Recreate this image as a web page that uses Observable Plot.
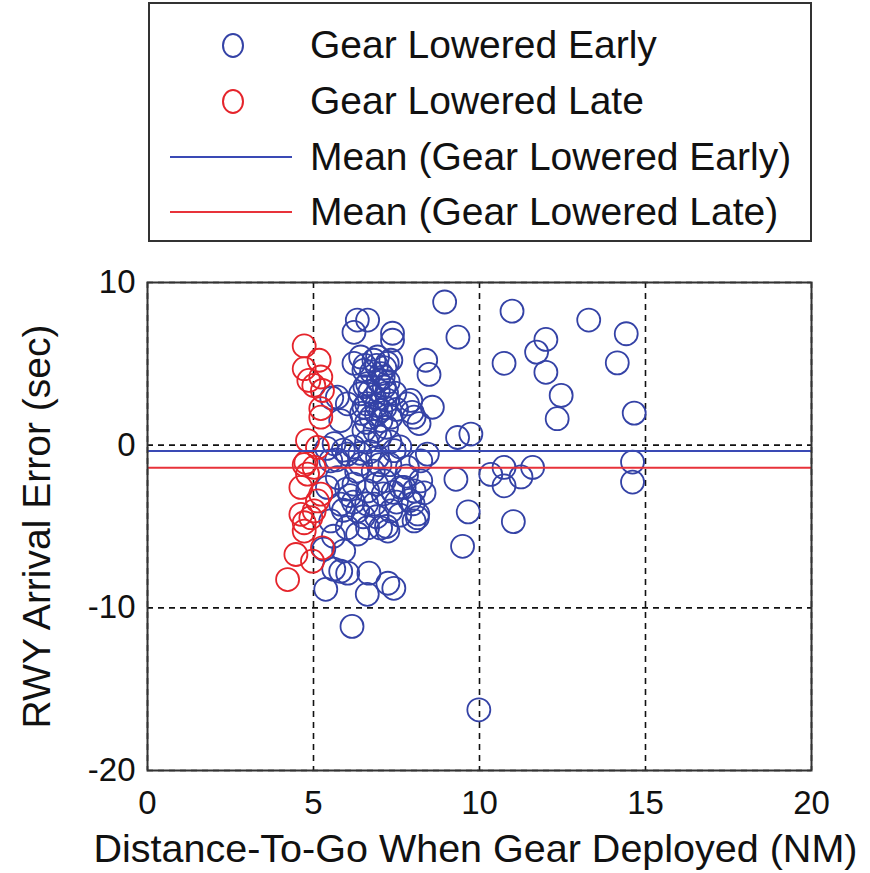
<!DOCTYPE html>
<html><head><meta charset="utf-8">
<script src="https://cdn.jsdelivr.net/npm/d3@7"></script>
<script src="https://cdn.jsdelivr.net/npm/@observablehq/plot@0.6"></script>
<style>
body{margin:0;background:#fff;font-family:"Liberation Sans",Arial,sans-serif;}
#legend{position:relative;width:870px;height:262px;}
.box{position:absolute;left:148px;top:2px;width:660px;height:236px;border:2px solid #333;box-sizing:content-box;}
.lbl{position:absolute;left:310px;height:50px;line-height:50px;font-size:39px;color:#111;white-space:nowrap;}
.mk{position:absolute;left:222px;width:18px;height:21px;border-radius:50%;border:2px solid;}
.ln{position:absolute;left:170px;width:122px;height:2px;}
#chart svg{display:block;}
</style></head><body>
<div id="legend"></div><div id="chart"></div>
<script>
// Early (blue) points: distance-to-go (NM), arrival error (sec)
const earlyDist = [8.95,10.98,13.29,9.35,12.0,11.72,10.74,14.15,14.42,12.0,12.46,12.34,14.66,9.74,9.34,9.29,10.34,10.74,10.74,11.25,11.6,11.02,9.66,9.49,14.61,14.61,9.98,6.16,5.82,6.62,5.37,7.42,7.24,6.67,6.03,5.61,5.31,5.91,6.33,7.02,7.24,8.14,8.33,8.43,8.23,7.73,8.03,8.03,6.32,6.63,6.22,7.38,7.38,8.38,8.48,6.22,6.82,7.22,5.72,7.93,8.58,7.97,8.18,5.82,6.52,7.03,8.03,5.62,6.02,6.42,6.93,7.43,7.83,8.23,5.72,6.22,6.63,7.13,7.63,5.82,6.33,6.83,7.33,8.13,5.52,6.02,6.63,6.42,6.93,7.33,6.52,7.03,6.63,7.13,6.42,6.83,7.23,6.52,7.03,6.73,7.33,5.55,6.02,7.83,5.42,5.52,6.9,7.1,6.7,7.0,6.6,6.2,7.3,6.8,7.3,7.9,7.5,6.9,6.1,5.9,6.6,7.6,
  6.55,7.15,6.75,6.95,7.25,6.55,6.95,7.2,6.6,6.9,7.15,6.45,6.9,7.2,6.6,6.85,7.45,7.5,
  5.7,6.3,6.9,7.4,6.0,6.5,7.1,7.6,5.9,6.4,7.0,7.8,5.4,6.2,7.2,8.0,6.7,5.6];
const earlyErr = [8.8,8.24,7.69,6.64,6.5,5.72,5.03,5.06,6.85,4.48,3.06,1.63,1.97,0.68,0.47,-2.1,-1.8,-1.37,-2.5,-1.95,-1.37,-4.7,-4.1,-6.22,-1.04,-2.27,-16.27,-11.14,-7.75,-9.17,-8.86,-8.8,-8.49,-7.87,-7.87,-7.62,-6.39,-6.51,-5.46,-5.09,-5.28,-4.23,-2.93,-0.55,-2.19,-2.6,-2.81,-4.66,7.69,7.69,6.94,6.88,6.45,5.22,4.35,5.03,5.22,5.03,2.95,2.75,2.33,2.02,1.33,1.51,0.9,1.51,1.72,0.09,-0.55,-1.16,-0.75,-0.34,-1.37,-0.96,-1.99,-2.4,-2.81,-2.19,-2.6,-3.63,-4.04,-3.63,-4.04,-4.46,-4.66,-5.07,-5.07,5.42,5.42,5.22,4.6,4.4,3.78,3.57,3.16,2.95,2.75,2.33,2.13,1.72,1.72,2.9,2.54,2.54,-2.6,-0.96,4.9,4.2,3.3,0.5,0.2,-0.1,0.2,-1.6,-1.2,-3.4,-3.5,-4.4,-3.1,-0.3,-3.6,-0.1,
  4.9,4.75,4.5,3.95,3.9,3.6,3.35,3.2,2.55,2.45,2.3,1.95,1.9,1.1,1.4,0.85,3.2,2.2,
  -0.9,-1.6,-2.4,-2.9,-2.7,-4.4,-3.0,-4.3,-4.0,-0.5,-1.2,-1.9,-0.2,-3.5,-5.0,-3.6,-0.4,-5.6];
// Late (red) points
const lateDist = [4.72,5.17,4.72,5.22,4.86,5.01,5.27,5.22,5.22,4.82,5.12,4.77,5.02,4.82,4.72,4.62,5.22,5.12,4.62,4.92,4.72,5.02,4.72,4.47,5.27,4.97,4.22];
const lateErr = [6.1,5.22,4.7,4.19,3.98,3.67,3.36,2.25,1.72,0.28,-0.14,-1.06,-1.37,-1.78,-1.2,-2.6,-3.01,-3.43,-4.25,-4.46,-4.77,-4.04,-5.28,-6.72,-6.31,-7.13,-8.26];
// Means
const earlyMean = -0.36;
const lateMean = -1.39;
// Ticks and labels
const xTicks = [0,5,10,15,20];
const yTicks = [10,0,-10,-20];
const xLabel = "Distance-To-Go When Gear Deployed (NM)";
const yLabel = "RWY Arrival Error (sec)";
const seriesNames = ["Gear Lowered Early","Gear Lowered Late","Mean (Gear Lowered Early)","Mean (Gear Lowered Late)"];
const blue = "#3442a6", red = "#e5242b", blueLine = "#3a4ab5", redLine = "#e8323a";

// Legend (HTML above the SVG)
const leg = document.getElementById("legend");
let html = '<div class="box"></div>';
const rowY = [45,101,157,212];
const kinds = [["mk",blue],["mk",red],["ln",blueLine],["ln",redLine]];
seriesNames.forEach((name,i)=>{
  const [k,c] = kinds[i];
  if (k==="mk") html += `<div class="mk" style="top:${rowY[i]-12}px;border-color:${c}"></div>`;
  else html += `<div class="ln" style="top:${rowY[i]-1}px;background:${c}"></div>`;
  html += `<div class="lbl" style="top:${rowY[i]-25}px">${name}</div>`;
});
leg.innerHTML = html;

const early = earlyDist.map((d,i)=>({dist:d, err:earlyErr[i]}));
const late = lateDist.map((d,i)=>({dist:d, err:lateErr[i]}));

const chart = Plot.plot({
  width: 870, height: 611,
  marginTop: 20, marginBottom: 103, marginLeft: 147, marginRight: 59,
  style: {fontFamily: "Liberation Sans, Arial, sans-serif", background: "#fff", color: "#111", overflow: "visible"},
  x: {domain: [0,20]},
  y: {domain: [-20,10]},
  marks: [
    Plot.ruleX(xTicks, {stroke: "#111", strokeWidth: 1.6, strokeDasharray: "6,5"}),
    Plot.ruleY(yTicks, {stroke: "#111", strokeWidth: 1.6, strokeDasharray: "6,5"}),
    Plot.dot(early, {x: "dist", y: "err", r: 11.5, stroke: blue, strokeWidth: 1.8}),
    Plot.dot(late, {x: "dist", y: "err", r: 11.5, stroke: red, strokeWidth: 1.8}),
    Plot.ruleY([earlyMean], {stroke: blueLine, strokeWidth: 2}),
    Plot.ruleY([lateMean], {stroke: redLine, strokeWidth: 2}),
    Plot.frame({stroke: "#333", strokeWidth: 2}),
    Plot.axisX(xTicks, {tickSize: 0, tickPadding: 20, fontSize: 33, fill: "#111", label: null, tickFormat: d => String(d)}),
    Plot.axisY(yTicks, {tickSize: 0, tickPadding: 12, fontSize: 33, fill: "#111", label: null, tickFormat: d => String(d)}),
    Plot.text([xLabel], {text: d => d, frameAnchor: "bottom", lineAnchor: "middle", textAnchor: "middle", dx: -4, dy: 79, fontSize: 39.5, fill: "#111"}),
    Plot.text([yLabel], {text: d => d, frameAnchor: "left", lineAnchor: "middle", textAnchor: "middle", dx: -110, rotate: -90, fontSize: 39, fill: "#111"})
  ]
});
document.getElementById("chart").appendChild(chart);
</script>
</body></html>
